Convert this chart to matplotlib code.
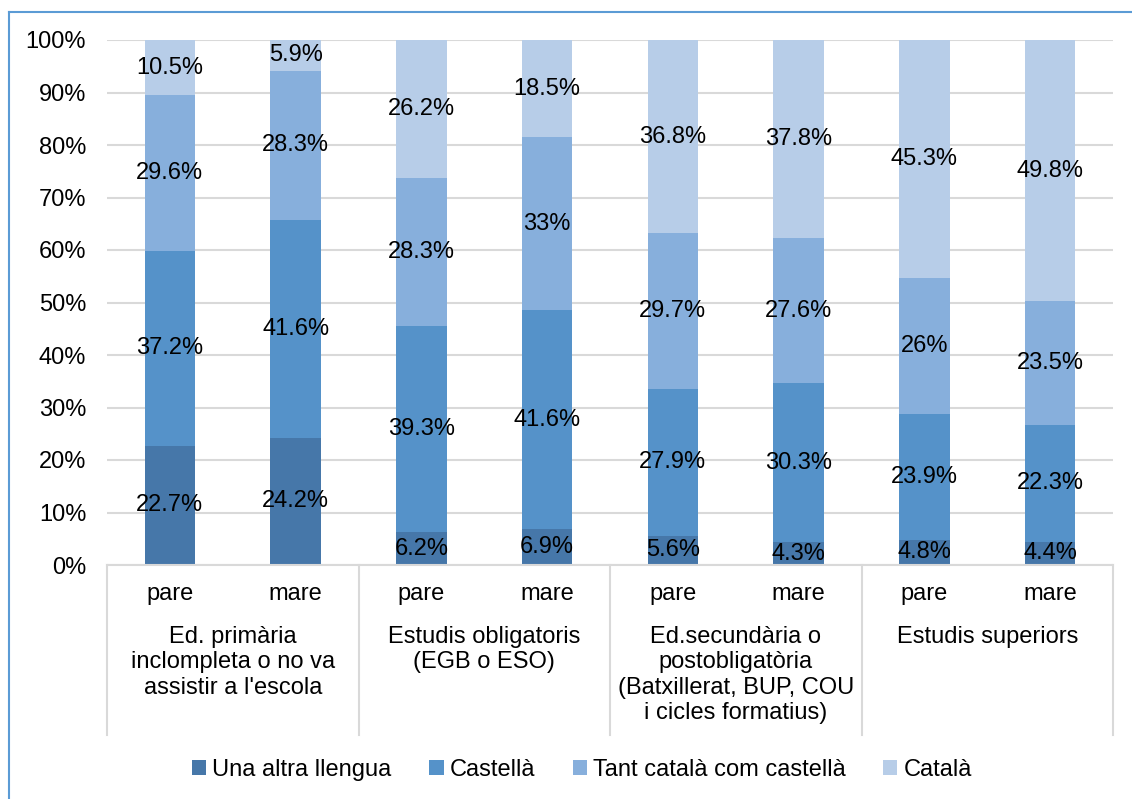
import numpy as np
import matplotlib.pyplot as plt
from matplotlib.lines import Line2D

plt.rcParams['font.family'] = ['Liberation Sans', 'DejaVu Sans']

groups = ['Ed. primària\ninclompleta o no va\nassistir a l\'escola',
          'Estudis obligatoris\n(EGB o ESO)',
          'Ed.secundària o\npostobligatòria\n(Batxillerat, BUP, COU\ni cicles formatius)',
          'Estudis superiors']
parents = ['pare', 'mare'] * 4
series = ['Una altra llengua', 'Castellà', 'Tant català com castellà', 'Català']

altra = [22.7, 24.2, 6.2, 6.9, 5.6, 4.3, 4.8, 4.4]
castella = [37.2, 41.6, 39.3, 41.6, 27.9, 30.3, 23.9, 22.3]
tant = [29.6, 28.3, 28.3, 33, 29.7, 27.6, 26, 23.5]
catala = [10.5, 5.9, 26.2, 18.5, 36.8, 37.8, 45.3, 49.8]

colors = ['#4677A9', '#5592C9', '#87AFDC', '#B7CDE8']
fs = 17

W, H = 1132, 799
fig = plt.figure(figsize=(W / 100, H / 100), dpi=100)
ax = fig.add_axes([107 / W, 1 - 565 / H, (1113 - 107) / W, (565 - 40) / H])

x = np.arange(8)
bottom = np.zeros(8)
for vals, col, name in zip([altra, castella, tant, catala], colors, series):
    vals = np.array(vals, dtype=float)
    ax.bar(x, vals, 0.4, bottom=bottom, color=col, label=name, zorder=2)
    for xi, b, v in zip(x, bottom, vals):
        ax.text(xi, b + v / 2, '{:g}%'.format(v), ha='center', va='center',
                fontsize=fs, color='black', zorder=3)
    bottom += vals

ax.set_xlim(-0.5, 7.5)
ax.set_ylim(0, 100)
ax.set_yticks(np.arange(0, 101, 10))
ax.set_yticklabels(['{}%'.format(v) for v in range(0, 101, 10)], fontsize=fs)
ax.yaxis.grid(True, color='#D9D9D9', linewidth=1.5, zorder=0)
ax.set_axisbelow(True)
for s in ['top', 'right', 'left']:
    ax.spines[s].set_visible(False)
ax.spines['bottom'].set_color('#D9D9D9')
ax.spines['bottom'].set_linewidth(1.5)
ax.tick_params(axis='y', length=0, pad=15)
ax.tick_params(axis='x', length=0)
ax.set_xticks([])

# two-level category axis
for xi, p in zip(x, parents):
    ax.text(xi, -5.5, p, ha='center', va='center', fontsize=fs,
            clip_on=False)
for gi, g in enumerate(groups):
    ax.text(2 * gi + 0.5, -11.6, g, ha='center', va='top', fontsize=fs,
            linespacing=1.2, clip_on=False)
for xs in [-0.5, 1.5, 3.5, 5.5, 7.5]:
    ax.add_line(Line2D([xs, xs], [0, -32.4], color='#D9D9D9', linewidth=1.5,
                       clip_on=False))

leg = fig.legend(loc='center', bbox_to_anchor=(582 / W, 1 - 770 / H), ncol=4,
                 frameon=False, fontsize=fs, handlelength=0.6, handleheight=0.6,
                 handletextpad=0.25, columnspacing=1.6)

# figure border (top and left visible)
fig.add_artist(Line2D([8.5 / W, 8.5 / W], [0, 1 - 12 / H], color='#5B9BD5',
                      linewidth=1.5, transform=fig.transFigure))
fig.add_artist(Line2D([8.5 / W, 1], [1 - 12 / H, 1 - 12 / H], color='#5B9BD5',
                      linewidth=1.5, transform=fig.transFigure))

fig.savefig('out.png', dpi=100)
